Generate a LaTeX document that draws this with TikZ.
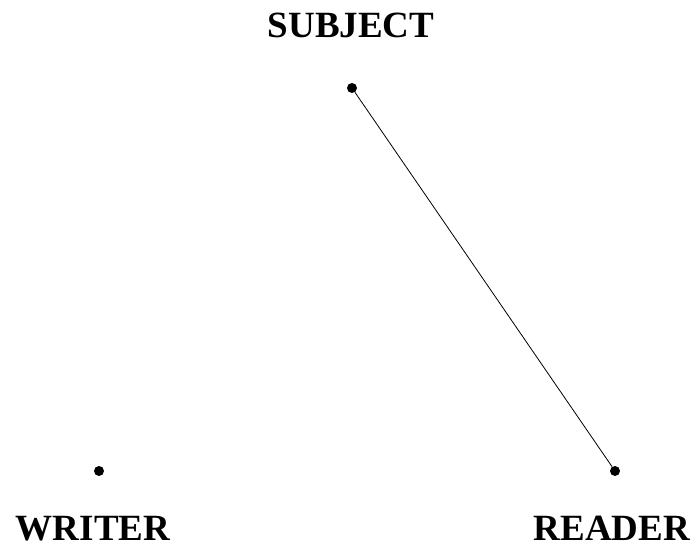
\documentclass[tikz,border=0pt]{standalone}
\usepackage{fontspec}
\setmainfont{Liberation Serif}
\usepackage{tikz}
\usetikzlibrary{positioning}

\begin{document}
\begin{tikzpicture}[
  x=1pt, y=-1pt,
  dot/.style={circle, fill=black, inner sep=0pt, minimum size=10pt},
  lbl/.style={anchor=base, inner sep=0pt, font=\fontsize{37}{40}\selectfont\bfseries}
]
  \useasboundingbox (0,0) rectangle (697,548);
  \node[dot] (subj) at (352,88) {};
  \node[dot] (wri) at (99,471) {};
  \node[dot] (rea) at (615,471) {};
  \node[lbl] (tsubj) at (351,38) {SUBJECT};
  \node[lbl] (twri) at (93,540) {WRITER};
  \node[lbl] (trea) at (612,540) {READER};

  \draw[line width=0.8pt] (subj) -- (rea);
\end{tikzpicture}
\end{document}
